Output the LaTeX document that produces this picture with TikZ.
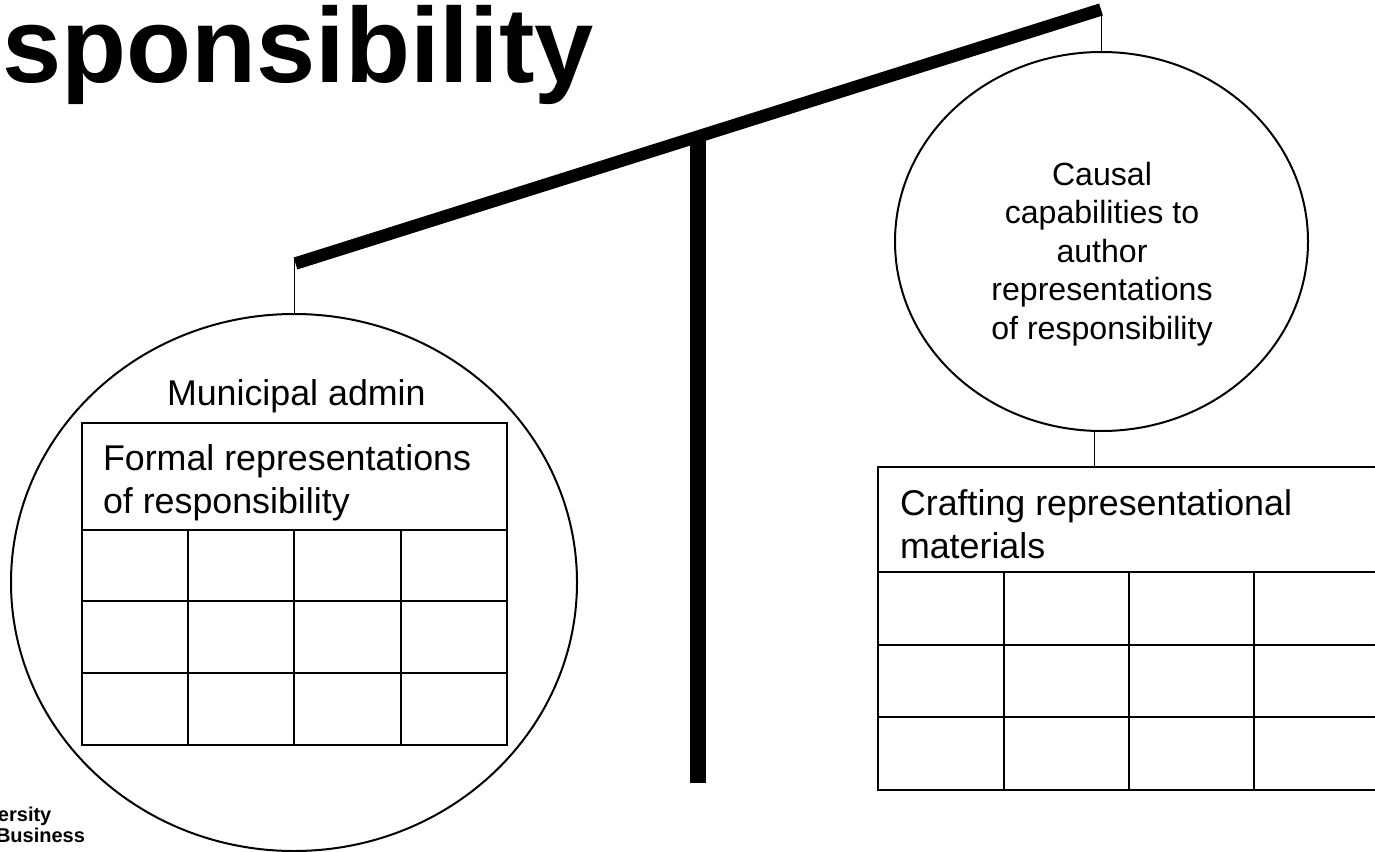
\documentclass[tikz,border=0pt]{standalone}
\usepackage{fontspec}
\setmainfont{Liberation Sans}
\usetikzlibrary{shapes.geometric}
\tikzset{
  every node/.style={inner sep=0pt,outer sep=0pt},
  circ/.style={draw=black,line width=2pt,ellipse,fill=none},
  tline/.style={draw=black,line width=2pt},
  hanger/.style={draw=black,line width=0.8pt},
  beamline/.style={draw=black,line width=12.5pt},
  postline/.style={draw=black,line width=16pt},
  bodytext/.style={font=\fontsize{35.8}{43}\selectfont,anchor=base west},
  captext/.style={font=\fontsize{32.1}{38.5}\selectfont,align=center},
  logotext/.style={font=\fontsize{20}{22}\selectfont\bfseries,anchor=base west},
}
\begin{document}
\begin{tikzpicture}[x=1pt,y=-1pt]
\useasboundingbox (0,0) rectangle (1375,851);
\clip (0,0) rectangle (1375,851);
% title and logo
\node[font=\fontsize{106.5}{110}\selectfont\bfseries,anchor=base west] (title) at (2,82.5) {sponsibility};
\node[logotext] (logoa) at (-2,821) {ersity};
\node[logotext] (logob) at (-4,842) {Business};
% circles
\node[circ,minimum width=566pt,minimum height=537pt] (cl) at (294,582.5) {};
\node[circ,minimum width=413pt,minimum height=379pt] (cr) at (1101.5,241.5) {};
% beam and post
\coordinate (bl) at (295.5,263.5);
\coordinate (br) at (1101,9.5);
\coordinate (pt) at (698,137);
\coordinate (pb) at (698,783);
\draw[postline] (pt) -- (pb);
\draw[beamline] (bl) -- (br);
% hangers
\coordinate (hl) at (294,258);
\coordinate (hr) at (1101.5,14);
\draw[hanger] (hl) -- (cl.north);
\draw[hanger] (hr) -- (cr.north);
% left table
\node[tline,rectangle,minimum width=425pt,minimum height=322pt] (tl) at (294.5,584) {};
\foreach \y in {530,601,673}
  \draw[tline] (tl.west |- 0,\y) -- (tl.east |- 0,\y);
\foreach \x in {188,294,401}
  \draw[tline] (\x,530) -- (\x,745);
% right table
\coordinate (trtl) at (878,466.5);
\coordinate (trbl) at (878,790);
\coordinate (trtr) at (1380,466.5);
\coordinate (trbr) at (1380,790);
\draw[tline] (trtr) -- (trtl) -- (trbl) -- (trbr);
\foreach \y in {572,645,717}
  \draw[tline] (878,\y) -- (1380,\y);
\foreach \x in {1004,1129,1254}
  \draw[tline] (\x,572) -- (\x,790);
\coordinate (hb) at (1094,431);
\coordinate (trc) at (1094,466.5);
\draw[hanger] (hb) -- (trc);
% text
\node[bodytext] (lm) at (167,405) {Municipal admin};
\node[bodytext] (lf1) at (103,470) {Formal representations};
\node[bodytext] (lf2) at (103,513) {of responsibility};
\node[bodytext] (rc1) at (900,515) {Crafting representational};
\node[bodytext] (rc2) at (900,558) {materials};
\node[captext] (cause) at (1102,254) {Causal\\capabilities to\\author\\representations\\of responsibility};
\end{tikzpicture}
\end{document}
